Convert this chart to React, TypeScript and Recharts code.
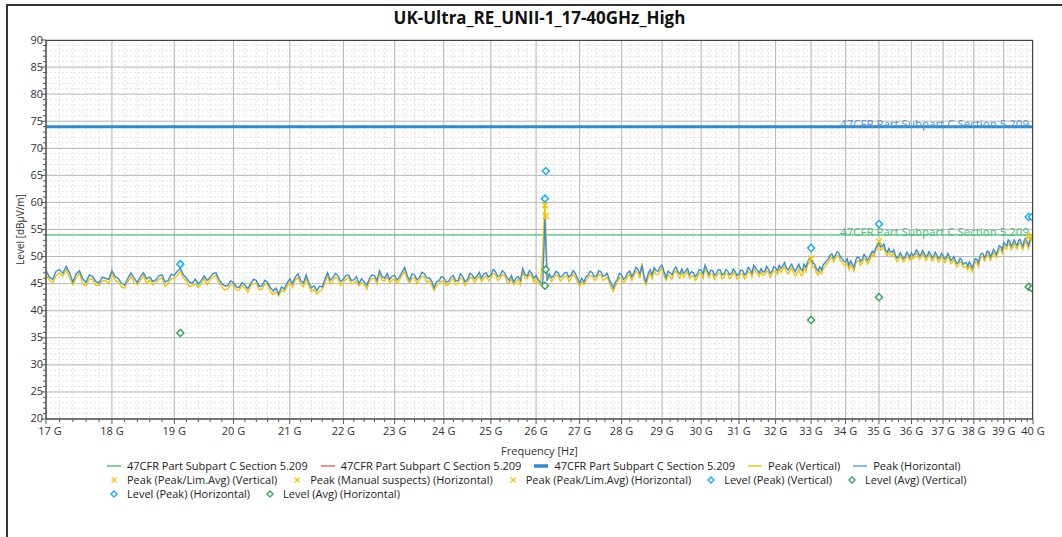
import React from "react";
import {
  ComposedChart,
  Line,
  Scatter,
  CartesianGrid,
  XAxis,
  YAxis,
  ReferenceLine
} from "recharts";

// sweep frequencies in GHz (one row per GHz)
const freqs: number[] = [
  17.0, 17.1, 17.2, 17.3, 17.4, 17.5, 17.6, 17.7, 17.8, 17.9,
  18.0, 18.1, 18.2, 18.3, 18.4, 18.5, 18.6, 18.7, 18.8, 18.9,
  19.0, 19.1, 19.2, 19.3, 19.4, 19.5, 19.6, 19.7, 19.8, 19.9,
  20.0, 20.1, 20.2, 20.3, 20.4, 20.5, 20.6, 20.7, 20.8, 20.9,
  21.0, 21.1, 21.2, 21.3, 21.4, 21.5, 21.6, 21.7, 21.8, 21.9,
  22.0, 22.1, 22.2, 22.3, 22.4, 22.5, 22.6, 22.7, 22.8, 22.9,
  23.0, 23.1, 23.2, 23.3, 23.4, 23.5, 23.6, 23.7, 23.8, 23.9,
  24.0, 24.1, 24.2, 24.3, 24.4, 24.5, 24.6, 24.7, 24.8, 24.9,
  25.0, 25.1, 25.2, 25.3, 25.4, 25.5, 25.6, 25.7, 25.8, 25.9,
  26.0, 26.1, 26.15, 26.2, 26.25, 26.3, 26.4, 26.5, 26.6, 26.7, 26.8, 26.9,
  27.0, 27.1, 27.2, 27.3, 27.4, 27.5, 27.6, 27.7, 27.8, 27.9,
  28.0, 28.1, 28.2, 28.3, 28.4, 28.5, 28.6, 28.7, 28.8, 28.9,
  29.0, 29.1, 29.2, 29.3, 29.4, 29.5, 29.6, 29.7, 29.8, 29.9,
  30.0, 30.1, 30.2, 30.3, 30.4, 30.5, 30.6, 30.7, 30.8, 30.9,
  31.0, 31.1, 31.2, 31.3, 31.4, 31.5, 31.6, 31.7, 31.8, 31.9,
  32.0, 32.1, 32.2, 32.3, 32.4, 32.5, 32.6, 32.7, 32.8, 32.9,
  33.0, 33.1, 33.2, 33.3, 33.4, 33.5, 33.6, 33.7, 33.8, 33.9,
  34.0, 34.1, 34.2, 34.3, 34.4, 34.5, 34.6, 34.7, 34.8, 34.9,
  35.0, 35.1, 35.2, 35.3, 35.4, 35.5, 35.6, 35.7, 35.8, 35.9,
  36.0, 36.1, 36.2, 36.3, 36.4, 36.5, 36.6, 36.7, 36.8, 36.9,
  37.0, 37.1, 37.2, 37.3, 37.4, 37.5, 37.6, 37.7, 37.8, 37.9,
  38.0, 38.1, 38.2, 38.3, 38.4, 38.5, 38.6, 38.7, 38.8, 38.9,
  39.0, 39.1, 39.2, 39.3, 39.4, 39.5, 39.6, 39.7, 39.8, 39.9,
  40.0
];

// Peak (Horizontal), dBµV/m
const peakHorizontal: number[] = [
  47.5, 45.8, 47.6, 48.2, 45.3, 47.4, 45.2, 46.3, 45.1, 46.0,
  47.4, 45.9, 44.7, 47.0, 45.2, 47.0, 46.2, 45.7, 46.6, 45.6,
  46.5, 47.9, 46.0, 45.1, 44.9, 46.4, 46.2, 47.0, 45.0, 44.6,
  45.2, 44.3, 44.7, 45.0, 45.6, 44.6, 45.2, 43.6, 43.1, 44.0,
  45.9, 46.2, 45.6, 46.6, 44.2, 43.7, 44.4, 47.0, 46.1, 46.4,
  45.8, 46.6, 45.7, 45.0, 45.3, 45.9, 46.5, 47.4, 46.0, 45.8,
  46.5, 46.3, 48.0, 45.6, 46.6, 46.2, 46.8, 46.0, 44.2, 45.5,
  46.1, 45.4, 46.5, 45.6, 46.3, 45.8, 46.6, 46.4, 46.0, 47.0,
  46.6, 47.2, 46.5, 47.0, 45.6, 45.3, 46.3, 47.8, 46.4, 46.9,
  46.5, 45.2, 45.0, 57.0, 45.5, 46.8, 46.5, 47.0, 46.4, 47.1, 46.6, 46.9,
  45.1, 45.3, 46.6, 47.0, 46.4, 47.2, 46.5, 45.8, 44.2, 45.8,
  46.6, 46.2, 47.3, 47.0, 47.6, 48.4, 45.3, 47.6, 48.0, 47.3,
  48.4, 46.1, 47.0, 47.6, 47.2, 47.7, 47.3, 46.6, 47.0, 46.8,
  47.5, 48.4, 46.7, 47.4, 46.9, 47.5, 46.8, 47.3, 46.9, 47.2,
  46.8, 47.4, 47.0, 47.6, 48.4, 47.4, 47.8, 47.2, 47.7, 47.3,
  47.9, 48.4, 48.3, 47.9, 48.1, 47.8, 48.0, 47.7, 48.6, 49.0,
  49.5, 48.6, 47.3, 47.5, 48.8, 49.6, 50.5, 50.2, 50.7, 49.6,
  49.0, 48.4, 48.6, 49.3, 49.8, 49.5, 50.0, 49.7, 51.0, 51.6,
  52.6, 51.9, 51.2, 51.5, 50.8, 50.3, 50.0, 50.2, 49.9, 50.4,
  50.7, 50.5, 50.9, 50.4, 50.6, 50.2, 50.5, 50.1, 50.3, 49.9,
  50.2, 49.8, 50.1, 49.6, 49.2, 49.0, 49.4, 48.8, 48.2, 48.5,
  48.9, 49.5, 50.0, 50.5, 50.3, 50.8, 50.5, 50.9, 51.3, 51.8,
  52.6, 52.0, 52.8, 52.3, 52.5, 52.9, 52.4, 53.0, 52.7, 53.2,
  53.4
];

// Peak (Vertical), dBµV/m
const peakVertical: number[] = [
  46.6, 45.2, 47.0, 47.6, 44.8, 46.9, 44.6, 45.8, 44.7, 45.6,
  47.0, 45.3, 44.2, 46.4, 44.8, 46.5, 45.7, 45.2, 46.1, 45.0,
  46.0, 47.3, 45.5, 44.6, 44.3, 45.9, 45.8, 46.6, 44.5, 44.0,
  44.7, 43.8, 44.2, 44.6, 45.1, 44.0, 44.8, 43.0, 42.7, 43.5,
  45.4, 45.7, 45.0, 46.0, 43.6, 43.1, 43.9, 46.5, 45.5, 45.9,
  45.3, 46.1, 45.1, 44.6, 44.8, 45.4, 46.0, 47.0, 45.5, 45.2,
  46.0, 45.8, 47.4, 45.1, 46.1, 45.7, 46.2, 45.5, 43.7, 45.0,
  45.5, 44.9, 46.0, 45.1, 45.8, 45.2, 46.1, 45.9, 45.4, 46.5,
  46.0, 46.7, 46.0, 46.5, 45.1, 44.8, 45.8, 47.3, 45.9, 46.3,
  46.0, 44.8, 51.0, 60.3, 47.0, 46.2, 46.0, 46.4, 45.9, 46.5, 46.0, 46.3,
  44.6, 44.8, 46.1, 46.4, 45.9, 46.6, 45.9, 45.3, 43.6, 45.3,
  46.0, 45.7, 46.7, 46.5, 47.0, 48.8, 44.8, 47.0, 47.5, 46.7,
  47.9, 45.6, 46.4, 47.0, 46.6, 47.1, 46.7, 46.0, 46.4, 46.2,
  46.9, 47.9, 46.1, 46.8, 46.3, 46.9, 46.2, 46.7, 46.3, 46.6,
  46.2, 46.8, 46.4, 47.0, 47.9, 46.8, 47.2, 46.6, 47.1, 46.7,
  47.3, 47.9, 47.7, 47.2, 47.4, 47.0, 46.8, 46.6, 47.9, 48.5,
  49.6, 48.1, 46.6, 46.9, 48.2, 49.0, 50.0, 49.6, 50.1, 49.0,
  48.3, 47.6, 47.9, 48.7, 49.2, 48.9, 49.4, 49.1, 50.5, 51.2,
  52.9, 51.4, 50.6, 51.0, 50.2, 49.7, 49.4, 49.6, 49.3, 49.8,
  50.1, 49.9, 50.3, 49.8, 50.0, 49.6, 49.9, 49.5, 49.7, 49.3,
  49.6, 49.2, 49.5, 49.0, 48.6, 48.4, 48.8, 48.1, 47.5, 47.8,
  48.3, 48.9, 49.4, 49.9, 49.7, 50.2, 49.9, 50.3, 50.7, 51.2,
  52.0, 51.4, 52.2, 51.7, 51.9, 52.3, 51.8, 52.4, 52.1, 52.8,
  53.7
];

// in-between sweep points (x.x5 GHz)
const freqsMid: number[] = [
  17.05, 17.15, 17.25, 17.35, 17.45, 17.55, 17.65, 17.75, 17.85, 17.95,
  18.05, 18.15, 18.25, 18.35, 18.45, 18.55, 18.65, 18.75, 18.85, 18.95,
  19.05, 19.15, 19.25, 19.35, 19.45, 19.55, 19.65, 19.75, 19.85, 19.95,
  20.05, 20.15, 20.25, 20.35, 20.45, 20.55, 20.65, 20.75, 20.85, 20.95,
  21.05, 21.15, 21.25, 21.35, 21.45, 21.55, 21.65, 21.75, 21.85, 21.95,
  22.05, 22.15, 22.25, 22.35, 22.45, 22.55, 22.65, 22.75, 22.85, 22.95,
  23.05, 23.15, 23.25, 23.35, 23.45, 23.55, 23.65, 23.75, 23.85, 23.95,
  24.05, 24.15, 24.25, 24.35, 24.45, 24.55, 24.65, 24.75, 24.85, 24.95,
  25.05, 25.15, 25.25, 25.35, 25.45, 25.55, 25.65, 25.75, 25.85, 25.95,
  26.05, 26.35, 26.45, 26.55, 26.65, 26.75, 26.85, 26.95,
  27.05, 27.15, 27.25, 27.35, 27.45, 27.55, 27.65, 27.75, 27.85, 27.95,
  28.05, 28.15, 28.25, 28.35, 28.45, 28.55, 28.65, 28.75, 28.85, 28.95,
  29.05, 29.15, 29.25, 29.35, 29.45, 29.55, 29.65, 29.75, 29.85, 29.95,
  30.05, 30.15, 30.25, 30.35, 30.45, 30.55, 30.65, 30.75, 30.85, 30.95,
  31.05, 31.15, 31.25, 31.35, 31.45, 31.55, 31.65, 31.75, 31.85, 31.95,
  32.05, 32.15, 32.25, 32.35, 32.45, 32.55, 32.65, 32.75, 32.85, 32.95,
  33.05, 33.15, 33.25, 33.35, 33.45, 33.55, 33.65, 33.75, 33.85, 33.95,
  34.05, 34.15, 34.25, 34.35, 34.45, 34.55, 34.65, 34.75, 34.85, 34.95,
  35.05, 35.15, 35.25, 35.35, 35.45, 35.55, 35.65, 35.75, 35.85, 35.95,
  36.05, 36.15, 36.25, 36.35, 36.45, 36.55, 36.65, 36.75, 36.85, 36.95,
  37.05, 37.15, 37.25, 37.35, 37.45, 37.55, 37.65, 37.75, 37.85, 37.95,
  38.05, 38.15, 38.25, 38.35, 38.45, 38.55, 38.65, 38.75, 38.85, 38.95,
  39.05, 39.15, 39.25, 39.35, 39.45, 39.55, 39.65, 39.75, 39.85, 39.95
];

const peakHorizontalMid: number[] = [
  46.2, 47.3, 46.9, 47.0, 46.8, 45.9, 46.6, 45.4, 46.2, 45.8,
  46.3, 45.1, 46.0, 46.0, 46.3, 45.9, 45.4, 46.5, 45.3, 46.7,
  47.3, 46.6, 45.3, 45.8, 45.6, 45.6, 46.9, 45.8, 44.6, 45.5,
  44.4, 45.2, 44.1, 45.8, 44.5, 45.6, 44.3, 44.2, 44.4, 45.1,
  45.0, 46.8, 45.1, 45.2, 44.6, 44.5, 45.8, 45.6, 46.9, 45.4,
  46.5, 45.6, 46.3, 45.9, 44.7, 46.6, 45.6, 46.3, 46.9, 46.4,
  45.7, 47.2, 46.5, 46.8, 45.7, 47.1, 46.1, 45.5, 45.4, 46.3,
  45.3, 46.2, 45.5, 46.8, 45.3, 46.9, 45.9, 47.1, 46.8, 46.2,
  47.6, 46.3, 47.4, 46.1, 46.5, 46.0, 45.6, 46.7, 47.4, 46.0,
  45.7, 46.1, 47.3, 46.2, 47.0, 46.2, 47.4, 46.0,
  46.0, 46.3, 47.3, 46.3, 47.4, 46.4, 46.9, 45.0, 45.3, 46.9,
  45.8, 47.0, 46.3, 48.0, 46.8, 46.3, 46.8, 46.6, 47.4, 48.1,
  47.2, 47.3, 46.6, 48.1, 46.8, 46.9, 47.8, 47.2, 46.3, 47.6,
  46.8, 47.6, 47.5, 46.5, 47.6, 46.6, 47.6, 46.6, 47.7, 46.5,
  47.5, 46.6, 48.0, 46.9, 47.9, 47.0, 47.2, 48.2, 46.9, 48.1,
  47.4, 47.8, 48.9, 47.5, 48.6, 47.2, 48.6, 47.4, 48.0, 49.6,
  48.8, 47.8, 48.1, 48.5, 49.3, 50.2, 49.7, 50.9, 49.9, 49.1,
  49.6, 49.2, 48.0, 49.9, 49.1, 50.4, 49.3, 50.4, 50.7, 52.0,
  51.8, 52.3, 50.8, 50.9, 51.2, 49.7, 50.7, 49.6, 50.8, 49.9,
  50.2, 51.2, 50.1, 51.1, 49.9, 50.9, 49.8, 50.8, 49.6, 50.6,
  49.5, 50.6, 49.3, 50.0, 48.7, 49.7, 48.6, 48.9, 49.0, 47.9,
  49.6, 48.8, 50.6, 49.8, 51.0, 49.9, 51.3, 50.4, 52.0, 51.2,
  52.2, 53.1, 51.9, 53.1, 52.0, 53.2, 51.9, 53.4, 52.1, 53.6
];

const peakVerticalMid: number[] = [
  45.7, 46.5, 46.3, 46.1, 46.0, 45.0, 45.8, 44.7, 45.5, 45.0,
  45.6, 44.4, 45.3, 45.2, 45.6, 45.0, 44.8, 45.8, 44.5, 45.9,
  46.5, 46.0, 44.5, 45.0, 45.0, 44.8, 46.2, 45.0, 43.8, 44.8,
  43.8, 44.6, 43.4, 45.0, 43.9, 44.9, 43.5, 43.5, 43.7, 44.4,
  44.3, 46.1, 44.4, 44.5, 43.9, 43.6, 45.1, 44.9, 46.2, 44.6,
  45.8, 45.0, 45.5, 45.2, 44.0, 45.9, 44.9, 45.6, 46.2, 45.6,
  45.0, 46.5, 45.8, 46.0, 45.0, 46.4, 45.3, 44.7, 44.6, 45.5,
  44.6, 45.5, 44.8, 46.1, 44.6, 46.2, 45.2, 46.4, 46.0, 45.5,
  46.9, 45.6, 46.7, 45.3, 45.8, 45.3, 44.8, 46.0, 46.7, 45.2,
  45.0, 45.4, 46.6, 45.5, 46.3, 45.4, 46.7, 45.2,
  45.3, 45.6, 46.5, 45.6, 46.7, 45.6, 46.2, 44.2, 44.5, 46.2,
  45.1, 46.3, 45.6, 47.3, 46.0, 45.6, 46.1, 45.9, 46.7, 47.4,
  46.5, 46.6, 45.8, 47.4, 46.0, 46.2, 47.1, 46.4, 45.6, 46.9,
  46.0, 46.9, 46.8, 45.8, 46.9, 45.9, 46.9, 45.9, 47.0, 45.8,
  46.8, 45.9, 47.3, 46.2, 47.2, 46.3, 46.5, 47.5, 46.2, 47.4,
  46.7, 47.1, 48.2, 46.8, 47.9, 46.4, 47.8, 46.5, 47.2, 48.9,
  48.0, 47.0, 47.3, 47.8, 48.6, 49.5, 49.0, 50.2, 49.2, 48.4,
  48.9, 48.5, 47.3, 49.2, 48.4, 49.7, 48.6, 49.7, 50.0, 51.4,
  51.2, 51.7, 50.2, 50.3, 50.6, 49.1, 50.1, 49.0, 50.2, 49.3,
  49.6, 50.6, 49.5, 50.5, 49.3, 50.3, 49.2, 50.2, 49.0, 50.0,
  48.9, 50.0, 48.7, 49.4, 48.1, 49.1, 48.0, 48.2, 48.3, 47.2,
  49.0, 48.2, 50.0, 49.2, 50.4, 49.3, 50.7, 49.8, 51.4, 50.6,
  51.6, 52.5, 51.3, 52.5, 51.4, 52.6, 51.3, 52.8, 51.5, 53.0
];

// limits
const limitPeak = 74;
const limitAvg = 54;
const limitName = "47CFR Part Subpart C Section 5.209";

// final measurement markers
const levelPeakV = [
  { f: 19.1, y: 48.6 },
  { f: 26.2, y: 60.7 },
  { f: 35.0, y: 56.0 },
  { f: 39.85, y: 57.3 }
];
const levelPeakH = [
  { f: 26.22, y: 65.8 },
  { f: 33.0, y: 51.6 },
  { f: 39.97, y: 57.3 }
];
const levelAvgV = [
  { f: 19.1, y: 35.9 },
  { f: 26.2, y: 44.6 },
  { f: 35.0, y: 42.5 },
  { f: 39.85, y: 44.4 }
];
const levelAvgH = [
  { f: 26.22, y: 47.6 },
  { f: 33.0, y: 38.3 },
  { f: 39.97, y: 44.1 }
];
const peakLimAvgV = [
  { f: 26.2, y: 59.5 },
  { f: 35.0, y: 52.8 },
  { f: 39.85, y: 53.6 }
];
const peakManualH = [{ f: 33.0, y: 49.6 }];
const peakLimAvgH = [
  { f: 26.22, y: 57.5 },
  { f: 39.97, y: 53.8 }
];

const xMajorTicks = [17, 18, 19, 20, 21, 22, 23, 24, 25, 26, 27, 28, 29, 30, 31, 32, 33, 34, 35, 36, 37, 38, 39, 40];
const yMajorTicks = [20, 25, 30, 35, 40, 45, 50, 55, 60, 65, 70, 75, 80, 85, 90];

const xMinorTicks: number[] = [];
for (let i = 0; i <= 115; i++) xMinorTicks.push(Math.round((17 + i * 0.2) * 10) / 10);
const yMinorTicks: number[] = [];
for (let v = 20; v <= 90; v++) yMinorTicks.push(v);

const data = [
  ...freqs.map((f, i) => ({ f, v: peakVertical[i], h: peakHorizontal[i] })),
  ...freqsMid.map((f, i) => ({ f, v: peakVerticalMid[i], h: peakHorizontalMid[i] }))
].sort((a, b) => a.f - b.f);

const C = {
  yellow: "#f5c400",
  blue: "#3a8fd3",
  limitBlue: "#2f8ad6",
  green: "#4cc27a",
  red: "#e8675a",
  cyan: "#19aef0",
  dGreen: "#3aa35c",
  axis: "#555"
};

const PLOT_LEFT = 46;
const PLOT_BOTTOM = 419;
const FONT = '"Open Sans", "DejaVu Sans", sans-serif';

const isInt = (v: number) => Math.abs(v - Math.round(v)) < 1e-6;

const YTick = (props: any) => {
  const { y, payload } = props;
  const v = payload.value;
  const major = v % 5 === 0;
  return (
    <g>
      <line x1={PLOT_LEFT - (major ? 5 : 3)} x2={PLOT_LEFT} y1={y} y2={y} stroke={C.axis} strokeWidth={1} />
      {major && (
        <text x={PLOT_LEFT - 3} y={v === 20 ? y - 1 : y} dy={3.5} textAnchor="end" fontSize={11} fill="#333" fontFamily={FONT}>
          {v}
        </text>
      )}
    </g>
  );
};

const XTick = (props: any) => {
  const { x, payload } = props;
  const v = payload.value;
  const major = isInt(v);
  return (
    <g>
      <line x1={x} x2={x} y1={PLOT_BOTTOM} y2={PLOT_BOTTOM + (major ? 5 : 3)} stroke={C.axis} strokeWidth={1} />
      {major && (
        <text x={x + (v === 17 ? 4 : 0)} y={PLOT_BOTTOM + 16} textAnchor="middle" fontSize={11} fill="#333" fontFamily={FONT}>
          {Math.round(v)} G
        </text>
      )}
    </g>
  );
};

const Diamond = (color: string) => (props: any) => {
  const { cx, cy } = props;
  if (cx == null || cy == null) return null;
  const r = 3.5;
  return (
    <path
      d={`M${cx},${cy - r} L${cx + r},${cy} L${cx},${cy + r} L${cx - r},${cy} Z`}
      fill="#fff"
      stroke={color}
      strokeWidth={1.5}
    />
  );
};

const Cross = (color: string) => (props: any) => {
  const { cx, cy } = props;
  if (cx == null || cy == null) return null;
  const r = 3;
  return (
    <g stroke={color} strokeWidth={1.4}>
      <line x1={cx - r} y1={cy - r} x2={cx + r} y2={cy + r} />
      <line x1={cx - r} y1={cy + r} x2={cx + r} y2={cy - r} />
    </g>
  );
};

const LimitLabel = (color: string) => (props: any) => {
  const vb = props.viewBox;
  if (!vb) return null;
  return (
    <text x={vb.x + vb.width - 4} y={vb.y + 1} textAnchor="end" fontSize={11.5} fill={color} fontFamily={FONT}>
      {limitName}
    </text>
  );
};

const YLabel = (props: any) => {
  const vb = props.viewBox;
  const cx = 20;
  const cy = vb ? vb.y + vb.height / 2 : 230;
  return (
    <text x={cx} y={cy} transform={`rotate(-90 ${cx} ${cy})`} textAnchor="middle" dy={4} fontSize={10} fill="#333" fontFamily={FONT}>
      Level [dBµV/m]
    </text>
  );
};

type LegendEntry = { name: string; kind: "line" | "thick" | "cross" | "diamond"; color: string };

const legendRows: LegendEntry[][] = [
  [
    { name: limitName, kind: "line", color: C.green },
    { name: limitName, kind: "line", color: C.red },
    { name: limitName, kind: "thick", color: C.limitBlue },
    { name: "Peak (Vertical)", kind: "line", color: C.yellow },
    { name: "Peak (Horizontal)", kind: "line", color: "#5aa6e6" }
  ],
  [
    { name: "Peak (Peak/Lim.Avg) (Vertical)", kind: "cross", color: C.yellow },
    { name: "Peak (Manual suspects) (Horizontal)", kind: "cross", color: C.yellow },
    { name: "Peak (Peak/Lim.Avg) (Horizontal)", kind: "cross", color: C.yellow },
    { name: "Level (Peak) (Vertical)", kind: "diamond", color: C.cyan },
    { name: "Level (Avg) (Vertical)", kind: "diamond", color: C.dGreen }
  ],
  [
    { name: "Level (Peak) (Horizontal)", kind: "diamond", color: C.cyan },
    { name: "Level (Avg) (Horizontal)", kind: "diamond", color: C.dGreen }
  ]
];

const LegendIcon = ({ e }: { e: LegendEntry }) => (
  <svg width={14} height={10} style={{ marginRight: 6, flexShrink: 0 }}>
    {e.kind === "line" && <line x1={0} x2={14} y1={5} y2={5} stroke={e.color} strokeWidth={1.5} />}
    {e.kind === "thick" && <line x1={0} x2={14} y1={5} y2={5} stroke={e.color} strokeWidth={3.5} />}
    {e.kind === "cross" && (
      <g stroke={e.color} strokeWidth={1.3}>
        <line x1={4.5} y1={2.5} x2={9.5} y2={7.5} />
        <line x1={4.5} y1={7.5} x2={9.5} y2={2.5} />
      </g>
    )}
    {e.kind === "diamond" && (
      <path d="M7,2 L10,5 L7,8 L4,5 Z" fill="#fff" stroke={e.color} strokeWidth={1.4} />
    )}
  </svg>
);

export default function App() {
  return (
    <div
      style={{
        position: "absolute",
        left: 0,
        top: 0,
        width: 1062,
        height: 537,
        background: "#fff",
        overflow: "hidden",
        fontFamily: FONT
      }}
    >
      {/* outer frame */}
      <div
        style={{
          position: "absolute",
          left: 6,
          top: 4,
          width: 1070,
          height: 560,
          borderLeft: "2px solid #333",
          borderTop: "2px solid #333"
        }}
      />
      <div
        style={{
          position: "absolute",
          left: 46,
          top: 6,
          width: 987,
          textAlign: "center",
          fontSize: 17,
          fontWeight: 700,
          color: "#111"
        }}
      >
        UK-Ultra_RE_UNII-1_17-40GHz_High
      </div>

      <div style={{ position: "absolute", left: 0, top: 0 }}>
        <ComposedChart width={1062} height={537} data={data} margin={{ top: 40, right: 29, bottom: 82, left: 16 }}>
          <CartesianGrid
            horizontalValues={yMinorTicks}
            verticalValues={xMinorTicks}
            stroke="#e3e3e3"
            strokeDasharray="2 2"
          />
          <CartesianGrid
            horizontalValues={yMajorTicks}
            verticalValues={xMajorTicks}
            stroke="#b8b8b8"
          />
          <XAxis
            dataKey="f"
            type="number"
            scale="log"
            domain={[17, 40]}
            ticks={xMinorTicks}
            interval={0}
            allowDataOverflow
            height={36}
            tickLine={false}
            tick={<XTick />}
            axisLine={{ stroke: C.axis, strokeWidth: 1.5 }}
            label={{ value: "Frequency [Hz]", position: "insideBottom", offset: 0, fontSize: 11, fill: "#333" }}
          />
          <YAxis
            type="number"
            domain={[20, 90]}
            ticks={yMinorTicks}
            interval={0}
            allowDataOverflow
            width={30}
            tickLine={false}
            tick={<YTick />}
            axisLine={{ stroke: C.axis, strokeWidth: 1.5 }}
            label={<YLabel />}
          />

          <ReferenceLine y={limitAvg} stroke={C.green} strokeWidth={1.3} label={LimitLabel("#45bf77")} />
          <ReferenceLine y={limitPeak} stroke={C.red} strokeWidth={1} />
          <ReferenceLine y={limitPeak} stroke={C.limitBlue} strokeWidth={3} label={LimitLabel("#4a94d4")} />

          <Line
            dataKey="v"
            name="Peak (Vertical)"
            stroke={C.yellow}
            strokeWidth={1.4}
            dot={false}
            isAnimationActive={false}
          />
          <Line
            dataKey="h"
            name="Peak (Horizontal)"
            stroke={C.blue}
            strokeWidth={1.4}
            dot={false}
            isAnimationActive={false}
          />

          <Scatter data={peakLimAvgV} dataKey="y" shape={Cross(C.yellow)} isAnimationActive={false} />
          <Scatter data={peakManualH} dataKey="y" shape={Cross(C.yellow)} isAnimationActive={false} />
          <Scatter data={peakLimAvgH} dataKey="y" shape={Cross(C.yellow)} isAnimationActive={false} />
          <Scatter data={levelPeakV} dataKey="y" shape={Diamond(C.cyan)} isAnimationActive={false} />
          <Scatter data={levelAvgV} dataKey="y" shape={Diamond(C.dGreen)} isAnimationActive={false} />
          <Scatter data={levelPeakH} dataKey="y" shape={Diamond(C.cyan)} isAnimationActive={false} />
          <Scatter data={levelAvgH} dataKey="y" shape={Diamond(C.dGreen)} isAnimationActive={false} />
        </ComposedChart>
      </div>

      {/* plot frame top/right */}
      <div
        style={{
          position: "absolute",
          left: 46,
          top: 40,
          width: 987,
          height: 379,
          boxSizing: "border-box",
          borderTop: "1.5px solid #444",
          borderRight: "1.5px solid #444",
          pointerEvents: "none"
        }}
      />

      {/* legend */}
      <div style={{ position: "absolute", left: 107, top: 459, fontSize: 11, color: "#222", lineHeight: "14px" }}>
        {legendRows.map((row, ri) => (
          <div key={ri} style={{ display: "flex", alignItems: "center", height: 14 }}>
            {row.map((e, i) => (
              <div key={i} style={{ display: "flex", alignItems: "center", marginRight: 13, whiteSpace: "nowrap" }}>
                <LegendIcon e={e} />
                <span>{e.name}</span>
              </div>
            ))}
          </div>
        ))}
      </div>
    </div>
  );
}
